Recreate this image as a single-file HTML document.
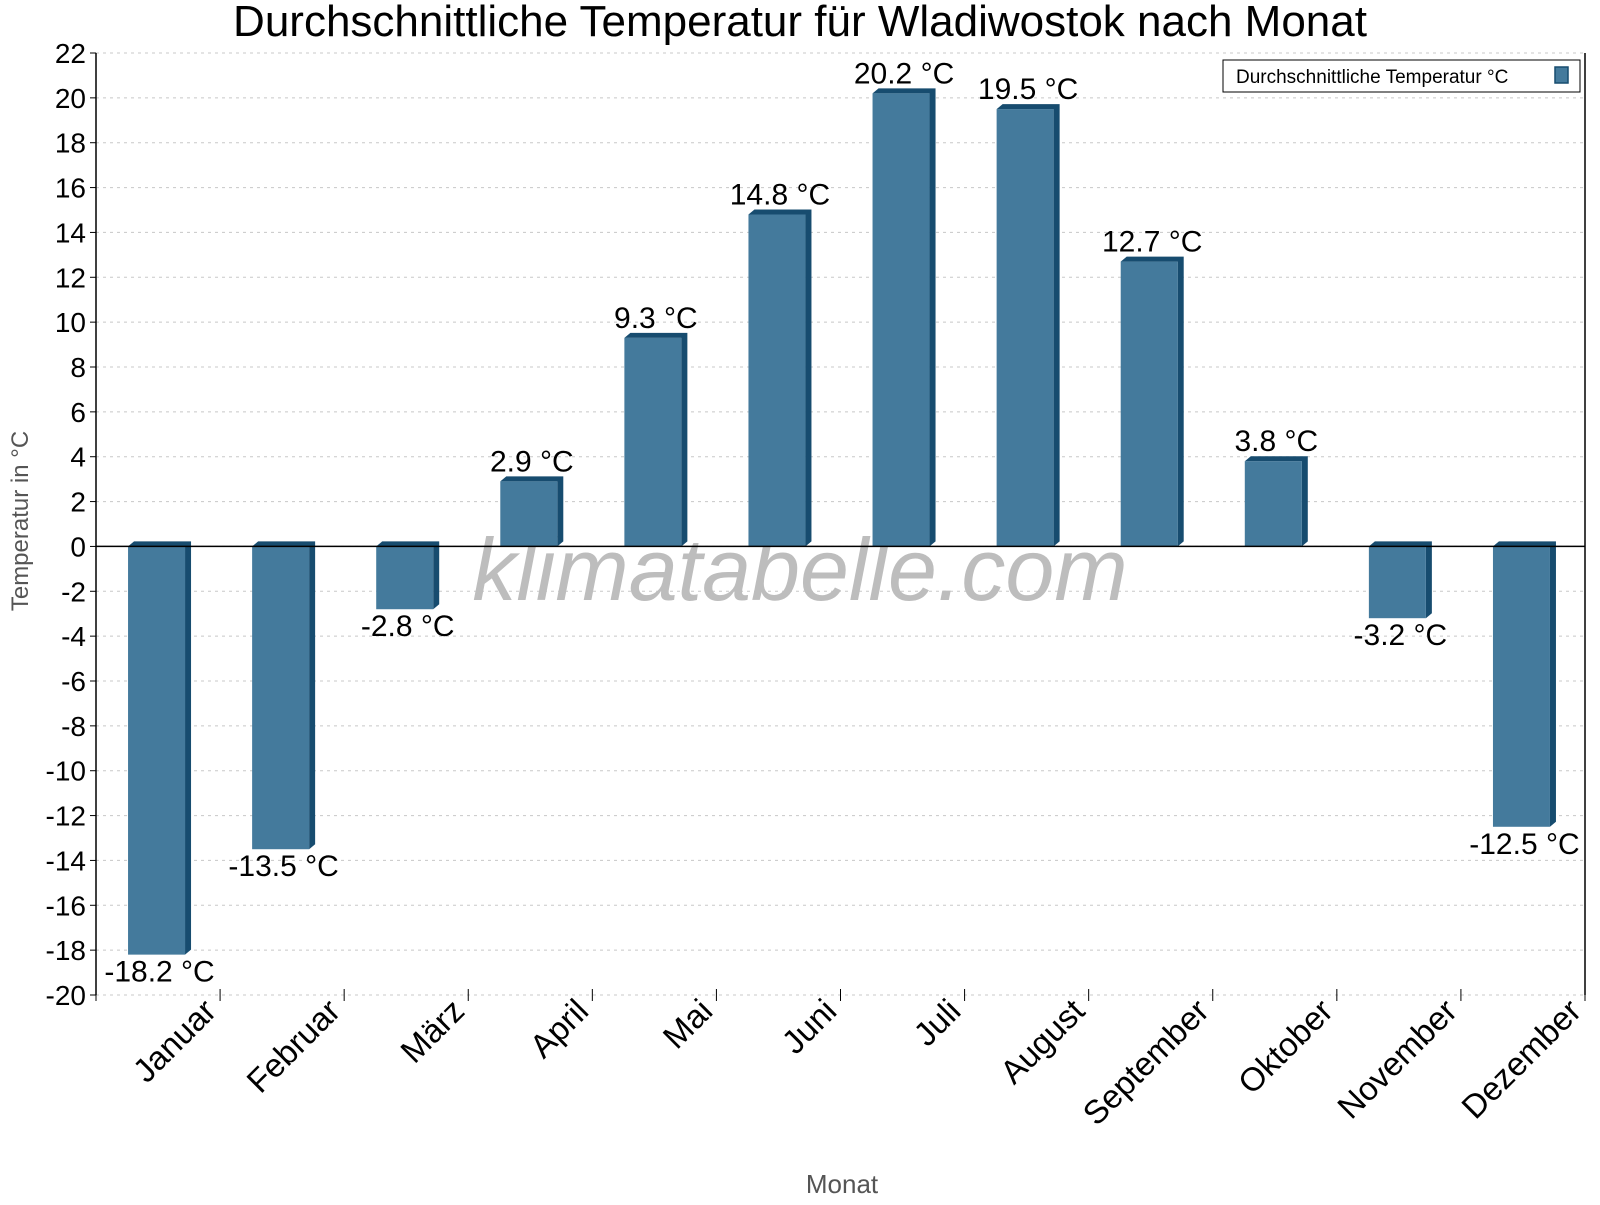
<!DOCTYPE html>
<html><head><meta charset="utf-8"><style>
body{margin:0;background:#fff;font-family:"Liberation Sans",sans-serif}
</style></head><body>
<svg id="chart" width="1600" height="1200" xmlns="http://www.w3.org/2000/svg" font-family="Liberation Sans, sans-serif">
<text x="800" y="36" font-size="44" text-anchor="middle">Durchschnittliche Temperatur für Wladiwostok nach Monat</text>
<g id="grid"></g>
<text x="800" y="600" font-size="88" font-style="italic" fill="#bdbdbd" text-anchor="middle">klimatabelle.com</text>
<g id="bars"></g>
<g id="axes"></g>
<text transform="translate(28,521) rotate(-90)" font-size="24" fill="#555" text-anchor="middle">Temperatur in °C</text>
<text x="842" y="1193" font-size="26" fill="#555" text-anchor="middle">Monat</text>
<g>
<rect x="1223" y="60" width="357" height="32" fill="#fff" stroke="#000" stroke-width="1"/>
<text x="1236" y="83" font-size="19">Durchschnittliche Temperatur °C</text>
<rect x="1555" y="67" width="13" height="16" fill="#447a9c" stroke="#174c6f" stroke-width="1.5"/>
</g>
</svg>
<script>
const months=["Januar","Februar","März","April","Mai","Juni","Juli","August","September","Oktober","November","Dezember"];
const temps=[-18.2,-13.5,-2.8,2.9,9.3,14.8,20.2,19.5,12.7,3.8,-3.2,-12.5];
const yTicks=[22,20,18,16,14,12,10,8,6,4,2,0,-2,-4,-6,-8,-10,-12,-14,-16,-18,-20];
const NS="http://www.w3.org/2000/svg";
const X0=96,X1=1585,Ytop=53,Ybot=995,VMAX=22,VMIN=-20;
const y=v=>Ytop+(VMAX-v)/(VMAX-VMIN)*(Ybot-Ytop);
const cw=(X1-X0)/months.length;
const cx=i=>X0+cw*(i+0.5);
function mk(tag,attrs,parent){const e=document.createElementNS(NS,tag);for(const k in attrs)e.setAttribute(k,attrs[k]);parent.appendChild(e);return e;}
const grid=document.getElementById('grid'),axes=document.getElementById('axes'),bars=document.getElementById('bars');
yTicks.forEach(t=>{
  const l=mk('line',{x1:X0,x2:X1,y1:y(t),y2:y(t),stroke:'#c8c8c8','stroke-dasharray':'3,4'},grid);
  
  
  mk('line',{x1:X0-6,x2:X0,y1:y(t),y2:y(t),stroke:'#000'},axes);
  const tx=mk('text',{x:X0-10,y:y(t)+10,'font-size':28,'text-anchor':'end'},axes);
  tx.textContent=t;
  
  
});
mk('line',{x1:X0,x2:X0,y1:Ytop,y2:Ybot,stroke:'#000','stroke-width':1.5},axes);
mk('line',{x1:X1,x2:X1,y1:Ytop,y2:Ybot,stroke:'#000','stroke-width':1.5},axes);
mk('line',{x1:X0,x2:X1,y1:y(0),y2:y(0),stroke:'#000','stroke-width':1.5},axes);
for(let i=0;i<=months.length;i++){mk('line',{x1:X0+cw*i,x2:X0+cw*i,y1:Ybot-6,y2:Ybot+6,stroke:'#000'},axes);}
months.forEach((m,i)=>{
  const xr=X0+cw*(i+1)-2;
  const t=mk('text',{transform:`translate(${xr},${Ybot+18}) rotate(-45)`,'font-size':33,'text-anchor':'end'},axes);
  t.textContent=m;
  
  
});
const W=57,D=6;
temps.forEach((v,i)=>{
  const left=cx(i)-30,top=Math.min(y(v),y(0)),bot=Math.max(y(v),y(0));
  const g=mk('g',{},bars);
  
  
  mk('polygon',{points:`${left},${top} ${left+D},${top-5} ${left+W+D},${top-5} ${left+W+D},${bot-5} ${left+W},${bot} ${left+W},${top}`,fill:'#174c6f'},g);
  mk('rect',{x:left,y:top,width:W,height:bot-top,fill:'#447a9c'},g);
  const lbl=mk('text',{x:left+W/2+3,y:v>=0?y(v)-10:y(v)+27,'font-size':30,'text-anchor':'middle'},bars);
  lbl.textContent=v.toFixed(1)+' °C';
  
  
});
</script>
</body></html>
